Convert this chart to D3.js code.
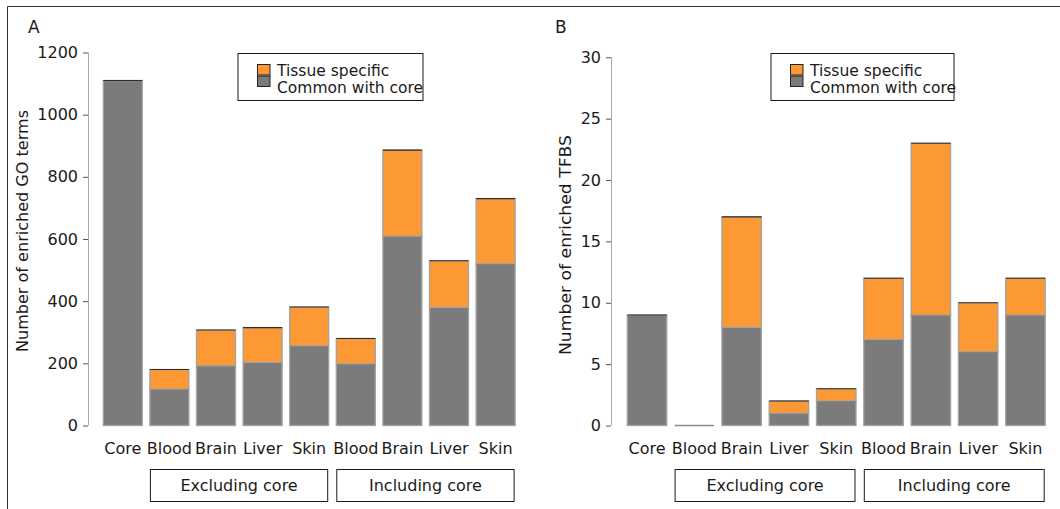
<!DOCTYPE html>
<html>
<head>
<meta charset="utf-8">
<script src="https://cdn.jsdelivr.net/npm/d3@7"></script>
<style>
  html, body { margin: 0; padding: 0; background: #fff; }
  svg text { font-family: "DejaVu Sans", sans-serif; fill: #1a1a1a; }
</style>
</head>
<body>
<svg id="chart" width="1060" height="509"></svg>
<script>
// data
const categories = ["Core", "Blood", "Brain", "Liver", "Skin", "Blood", "Brain", "Liver", "Skin"];
const groupLabels = ["Excluding core", "Including core"];
const groupRanges = [[1, 4], [5, 8]];
const seriesNames = ["Tissue specific", "Common with core"];

const goCommon   = [1110, 117, 192, 203, 256, 198, 609, 380, 520];
const goSpecific = [0, 63, 115, 112, 125, 82, 277, 150, 210];
const goTicks = [0, 200, 400, 600, 800, 1000, 1200];

const tfbsCommon   = [9, 0, 8, 1, 2, 7, 9, 6, 9];
const tfbsSpecific = [0, 0, 9, 1, 1, 5, 14, 4, 3];
const tfbsTicks = [0, 5, 10, 15, 20, 25, 30];

const ORANGE = "#fd9935", GREY = "#7b7b7b";

const svg = d3.select("#chart");

// frame (top + left only, like the source)
svg.append("path")
  .attr("d", "M7.5,509 L7.5,6.5 L1060,6.5")
  .attr("fill", "none").attr("stroke", "#333").attr("stroke-width", 1);

function panel(opt) {
  const g = svg.append("g");
  const x = d3.scaleBand()
    .domain(d3.range(categories.length))
    .range(opt.xRange)
    .paddingInner(opt.padIn)
    .paddingOuter(opt.padIn / 2);
  const y = d3.scaleLinear().domain([0, opt.max]).range([425.5, opt.yTop]);

  // panel letter
  g.append("text").attr("x", opt.letterX).attr("y", 33)
    .style("font-size", "17px").text(opt.letter);

  // y axis
  const yAxis = d3.axisLeft(y).tickValues(opt.ticks).tickFormat(d3.format("d"))
    .tickSize(5).tickPadding(5);
  const ax = g.append("g").attr("transform", `translate(${opt.axisX},0)`).call(yAxis);
  ax.select(".domain").attr("stroke", "#aaa").attr("d", `M0.5,${y(0)}V${y(opt.max)}`);
  ax.selectAll(".tick line").attr("stroke", "#555");
  ax.selectAll(".tick text").style("font-size", "16px").attr("fill", "#1a1a1a")
    .style("font-family", '"DejaVu Sans", sans-serif');

  g.append("text")
    .attr("transform", `translate(${opt.labelX},${opt.labelY}) rotate(-90)`)
    .attr("text-anchor", "start")
    .style("font-size", "16px")
    .attr("textLength", opt.labelLen)
    .attr("lengthAdjust", "spacingAndGlyphs")
    .text(opt.yLabel);

  // stacked bars
  const rows = categories.map((c, i) => ({ i, common: opt.common[i], specific: opt.specific[i] }));
  const stack = d3.stack().keys(["common", "specific"])(rows);
  const colors = { common: GREY, specific: ORANGE };

  stack.forEach(layer => {
    const lg = g.append("g");
    lg.selectAll("rect")
      .data(layer.filter(d => d[1] > d[0]))
      .join("rect")
      .attr("x", d => x(d.data.i))
      .attr("width", x.bandwidth())
      .attr("y", d => y(d[1]))
      .attr("height", d => y(d[0]) - y(d[1]))
      .attr("fill", colors[layer.key])
      .attr("stroke", "#a3a3a3")
      .attr("stroke-width", 1.3);
    lg.selectAll("line")
      .data(layer.filter(d => d[1] > d[0]))
      .join("line")
      .attr("x1", d => x(d.data.i))
      .attr("x2", d => x(d.data.i) + x.bandwidth())
      .attr("y1", d => y(d[1]))
      .attr("y2", d => y(d[1]))
      .attr("stroke", "#2e2e2e")
      .attr("stroke-width", 1.1);
  });

  // empty bars still show as a thin line on the baseline
  g.selectAll("line.zero")
    .data(rows.filter(d => d.common + d.specific === 0))
    .join("line").attr("class", "zero")
    .attr("x1", d => x(d.i))
    .attr("x2", d => x(d.i) + x.bandwidth())
    .attr("y1", y(0)).attr("y2", y(0))
    .attr("stroke", "#8a8a8a").attr("stroke-width", 1.5);

  // category labels
  g.selectAll("text.cat")
    .data(categories)
    .join("text").attr("class", "cat")
    .attr("x", (d, i) => x(i) + x.bandwidth() / 2)
    .attr("y", 454)
    .attr("text-anchor", "middle")
    .style("font-size", "16px")
    .text(d => d);

  // group boxes
  groupRanges.forEach((r, k) => {
    const x0 = x(r[0]) + 0.5, x1 = x(r[1]) + x.bandwidth() - 1;
    g.append("rect")
      .attr("x", x0).attr("y", 469.5)
      .attr("width", x1 - x0).attr("height", 32)
      .attr("fill", "none").attr("stroke", "#1a1a1a").attr("stroke-width", 1);
    g.append("text")
      .attr("x", (x0 + x1) / 2).attr("y", 491)
      .attr("text-anchor", "middle")
      .style("font-size", "16px")
      .text(groupLabels[k]);
  });

  // legend
  const lgd = g.append("g").attr("transform", `translate(${opt.legendX},53.5)`);
  lgd.append("rect").attr("width", opt.legendW).attr("height", 47)
    .attr("fill", "#fff").attr("stroke", "#1a1a1a").attr("stroke-width", 1);
  [ORANGE, GREY].forEach((c, k) => {
    lgd.append("rect")
      .attr("x", 19.5).attr("y", 11 + k * 11.5)
      .attr("width", 12.5).attr("height", 10.5)
      .attr("fill", c).attr("stroke", "#222").attr("stroke-width", 1);
    lgd.append("text")
      .attr("x", 39).attr("y", 22 + k * 17.5)
      .style("font-size", "15.5px")
      .text(seriesNames[k]);
  });
}

panel({
  letter: "A", letterX: 28,
  xRange: [99.5, 518.9], padIn: 0.163,
  max: 1200, yTop: 52.5, ticks: goTicks,
  axisX: 88,
  common: goCommon, specific: goSpecific,
  yLabel: "Number of enriched GO terms", labelX: 28, labelY: 352, labelLen: 242,
  legendX: 238, legendW: 185
});

panel({
  letter: "B", letterX: 555,
  xRange: [623.4, 1049.1], padIn: 0.165,
  max: 30, yTop: 57.3, ticks: tfbsTicks,
  axisX: 611,
  common: tfbsCommon, specific: tfbsSpecific,
  yLabel: "Number of enriched TFBS", labelX: 571, labelY: 355, labelLen: 220,
  legendX: 771, legendW: 183
});
</script>
</body>
</html>
